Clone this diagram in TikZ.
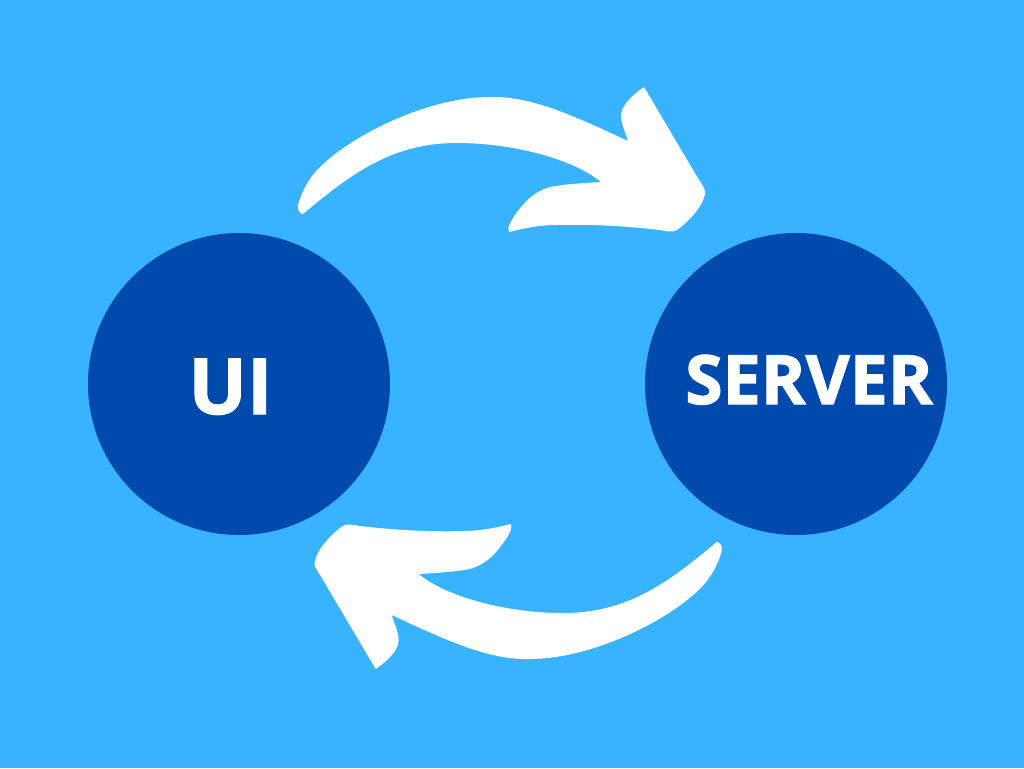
\documentclass[tikz,border=0pt]{standalone}
\usepackage{fontspec}
\setmainfont[BoldFeatures={FakeBold=1.6}]{Open Sans}
\definecolor{skybg}{HTML}{38B3FF}
\definecolor{deepblue}{HTML}{004AAD}
\tikzset{
  hub/.style={circle,fill=deepblue,draw=none,minimum size=226.5pt,inner sep=0pt},
  hublabel/.style={text=white,inner sep=0pt,anchor=base,font=\bfseries},
  swoosh/.style={fill=white,draw=none}
}
\newcommand{\arrowshape}{
  (303,214) .. controls (300,214) and (297,210) .. (298,205)
  .. controls (302,190) and (310,177) .. (320,167)
  .. controls (355,133) and (430,97) .. (490,97)
  .. controls (530,96) and (570,114) .. (628,141)
  .. controls (625,131) and (621,124) .. (621,115)
  .. controls (622,104) and (634,94) .. (644,87)
  -- (699,180) .. controls (703,186) and (706,190) .. (705,194)
  .. controls (702,208) and (688,222) .. (677,230)
  .. controls (672,233) and (666,231) .. (660,230)
  .. controls (625,226) and (590,224) .. (557,225)
  .. controls (540,225) and (525,228) .. (509,232)
  .. controls (507,228) and (510,223) .. (513,218)
  .. controls (522,205) and (532,192) .. (550,187)
  .. controls (565,184) and (585,183) .. (601,182)
  .. controls (575,160) and (515,143) .. (457,143)
  .. controls (395,143) and (355,170) .. (303,214) -- cycle
}
\begin{document}
\begin{tikzpicture}[x=0.75pt,y=-0.75pt]
\useasboundingbox (0,0) rectangle (1024,768);
\fill[skybg] (0,0) rectangle (1024,768);
\node[hub] (ui) at (239,384) {};
\node[hub] (server) at (796,384) {};
\node[hublabel,font=\bfseries\fontsize{58}{60}\selectfont] (uilabel) at (230.5,414) {UI};
\node[hublabel,font=\bfseries\fontsize{51}{53}\selectfont] (serverlabel) at (809,404) {SERVER};
\fill[swoosh] \arrowshape;
\begin{scope}[shift={(1019.7,756)},x=-0.75pt,y=0.75pt]
\fill[swoosh] \arrowshape;
\end{scope}
\end{tikzpicture}
\end{document}
